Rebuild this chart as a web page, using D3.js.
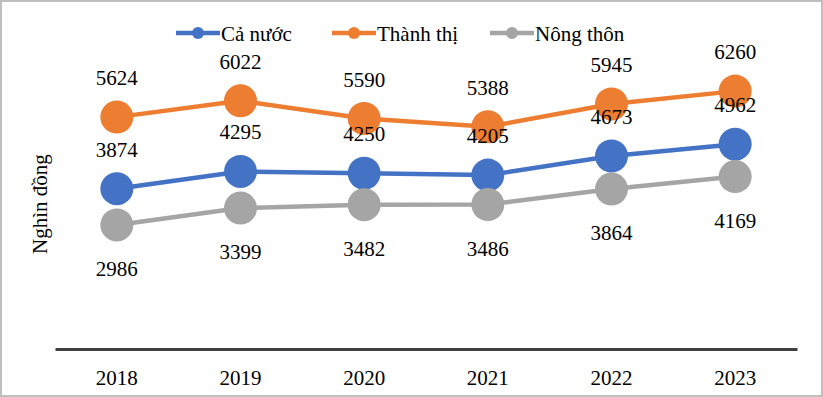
<!DOCTYPE html>
<html>
<head>
<meta charset="utf-8">
<script src="https://cdn.jsdelivr.net/npm/d3@7"></script>
<style>
  body { margin: 0; background: #fff; }
  svg text { font-family: "Liberation Serif", "Times New Roman", Tinos, "DejaVu Serif", serif !important; }
</style>
</head>
<body>
<div id="chart"></div>
<script>
var years = ["2018", "2019", "2020", "2021", "2022", "2023"];
var caNuoc = [3874, 4295, 4250, 4205, 4673, 4962];
var thanhThi = [5624, 6022, 5590, 5388, 5945, 6260];
var nongThon = [2986, 3399, 3482, 3486, 3864, 4169];
var seriesNames = ["Cả nước", "Thành thị", "Nông thôn"];
var seriesColors = ["#4472c4", "#ed7d31", "#a5a5a5"];
var labelSide = ["above", "above", "below"];
var yMax = 8000;

var W = 823, H = 397;
var svg = d3.select("#chart").append("svg").attr("width", W).attr("height", H);

// outer frame
svg.append("rect").attr("x", 1).attr("y", 1).attr("width", W - 2).attr("height", H - 2)
  .attr("fill", "#fff").attr("stroke", "#bfbfbf").attr("stroke-width", 2);

var x = d3.scaleBand().domain(years).range([55, 797]);
var y = d3.scaleLinear().domain([0, yMax]).range([347, 20]);

var series = [caNuoc, thanhThi, nongThon].map(function(vals, i) {
  return { name: seriesNames[i], color: seriesColors[i], side: labelSide[i],
    values: vals.map(function(v, j) { return { year: years[j], value: v }; }) };
});

// x axis
var xAxis = svg.append("g").attr("transform", "translate(0," + 349 + ")")
  .call(d3.axisBottom(x).tickSize(0).tickPadding(21));
xAxis.select(".domain").attr("stroke", "#404040").attr("stroke-width", 3);
xAxis.selectAll("text").attr("font-size", "21px").attr("fill", "#000");

// y title
svg.append("text").attr("transform", "translate(47,204) rotate(-90)")
  .attr("text-anchor", "middle").attr("font-size", "21px").attr("fill", "#000")
  .text("Nghìn đồng");

var cx = function(d) { return x(d.year) + x.bandwidth() / 2; };
var line = d3.line().x(cx).y(function(d) { return y(d.value); });

series.forEach(function(s) {
  svg.append("path").datum(s.values).attr("d", line)
    .attr("fill", "none").attr("stroke", s.color).attr("stroke-width", 4.5);
  svg.selectAll(null).data(s.values).join("circle")
    .attr("cx", cx).attr("cy", function(d) { return y(d.value); })
    .attr("r", 16.5).attr("fill", s.color);
});

series.forEach(function(s) {
  svg.selectAll(null).data(s.values).join("text")
    .attr("x", cx)
    .attr("y", function(d) { return y(d.value) + (s.side === "above" ? -32 : 51); })
    .attr("text-anchor", "middle").attr("font-size", "21px").attr("fill", "#000")
    .text(function(d) { return d.value; });
});

// legend
var legendX = [176, 332, 490];
series.forEach(function(s, i) {
  var g = svg.append("g").attr("transform", "translate(" + legendX[i] + ",33)");
  g.append("line").attr("x1", 0).attr("x2", 44).attr("stroke", s.color).attr("stroke-width", 4.5);
  g.append("circle").attr("cx", 22).attr("r", 6).attr("fill", s.color);
  g.append("text").attr("x", 45).attr("y", 8).attr("font-size", "21px").attr("fill", "#000").text(s.name);
});
</script>
</body>
</html>
